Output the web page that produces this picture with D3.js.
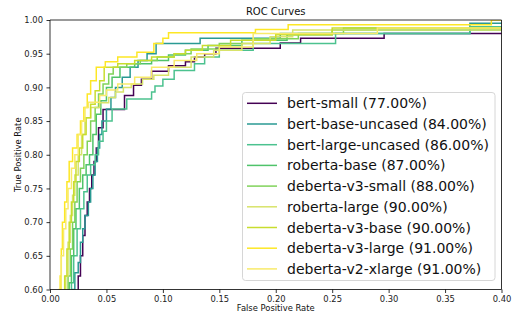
<!DOCTYPE html>
<html><head><meta charset="utf-8">
<script src="https://cdn.jsdelivr.net/npm/d3@7"></script>
<style>body{margin:0;background:#fff}svg{display:block}text{font-family:"DejaVu Sans",sans-serif}</style>
</head><body><svg id="c" width="514" height="314"></svg>
<script>
const models = ["bert-small","bert-base-uncased","bert-large-uncased","roberta-base","deberta-v3-small","roberta-large","deberta-v3-base","deberta-v3-large","deberta-v2-xlarge"];
const accuracy = [77.00,84.00,86.00,87.00,88.00,90.00,90.00,91.00,91.00];
const fprBertSmall = [0.024,0.025,0.027,0.029,0.031,0.033,0.035,0.037,0.039,0.041,0.043,0.047,0.066,0.074,0.081,0.090,0.105,0.120,0.128,0.137,0.147,0.204,0.222,0.296,0.45];
const tprBertSmall = [0.55,0.62,0.65,0.68,0.71,0.73,0.75,0.77,0.79,0.81,0.84,0.867,0.888,0.903,0.912,0.924,0.932,0.938,0.945,0.95,0.958,0.966,0.973,0.98,0.98];
const fprBertBase = [0.019,0.020,0.022,0.025,0.027,0.029,0.031,0.034,0.036,0.038,0.040,0.042,0.044,0.046,0.050,0.054,0.058,0.064,0.071,0.078,0.086,0.094,0.133,0.204,0.372,0.45];
const tprBertBase = [0.55,0.60,0.625,0.64,0.67,0.69,0.71,0.73,0.75,0.77,0.79,0.81,0.83,0.85,0.868,0.885,0.90,0.915,0.93,0.94,0.95,0.965,0.973,0.98,0.995,0.995];
const fprBertLarge = [0.018,0.019,0.021,0.024,0.027,0.030,0.033,0.036,0.040,0.043,0.047,0.050,0.055,0.068,0.090,0.093,0.100,0.110,0.128,0.137,0.150,0.180,0.253,0.372,0.45];
const tprBertLarge = [0.55,0.61,0.65,0.69,0.72,0.745,0.77,0.785,0.80,0.82,0.835,0.85,0.868,0.8826,0.893,0.902,0.912,0.925,0.935,0.945,0.955,0.965,0.98,0.99,0.99];
const fprRobertaBase = [0.016,0.017,0.019,0.021,0.023,0.026,0.029,0.032,0.035,0.038,0.041,0.045,0.050,0.055,0.062,0.075,0.090,0.105,0.120,0.140,0.170,0.210,0.250,0.45];
const tprRobertaBase = [0.55,0.61,0.65,0.69,0.72,0.75,0.77,0.785,0.80,0.83,0.86,0.88,0.90,0.915,0.93,0.935,0.94,0.948,0.955,0.962,0.97,0.978,0.985,0.985];
const fprDebV3Small = [0.015,0.016,0.018,0.020,0.022,0.024,0.027,0.030,0.033,0.036,0.040,0.043,0.047,0.052,0.056,0.068,0.080,0.095,0.110,0.125,0.150,0.180,0.220,0.260,0.45];
const tprDebV3Small = [0.55,0.62,0.66,0.70,0.73,0.76,0.78,0.80,0.82,0.85,0.87,0.89,0.905,0.92,0.93,0.935,0.94,0.945,0.95,0.957,0.965,0.972,0.98,0.988,0.988];
const fprRobertaLarge = [0.013,0.014,0.016,0.018,0.020,0.022,0.025,0.028,0.031,0.036,0.044,0.052,0.058,0.065,0.072,0.082,0.092,0.105,0.125,0.145,0.17,0.195,0.215,0.45];
const tprRobertaLarge = [0.55,0.62,0.67,0.71,0.74,0.77,0.80,0.83,0.855,0.87,0.877,0.885,0.893,0.90,0.905,0.912,0.918,0.93,0.945,0.955,0.965,0.975,0.985,0.985];
const fprDebV3Base = [0.012,0.013,0.015,0.017,0.019,0.021,0.023,0.026,0.029,0.032,0.036,0.040,0.044,0.048,0.060,0.075,0.090,0.110,0.120,0.135,0.160,0.200,0.250,0.45];
const tprDebV3Base = [0.55,0.62,0.66,0.70,0.73,0.76,0.79,0.81,0.83,0.855,0.875,0.895,0.91,0.93,0.935,0.94,0.945,0.95,0.955,0.962,0.97,0.978,0.988,0.988];
const fprDebV3Large = [0.008,0.009,0.010,0.011,0.013,0.015,0.017,0.020,0.024,0.027,0.030,0.033,0.036,0.041,0.049,0.060,0.077,0.092,0.100,0.105,0.182,0.211,0.391,0.45];
const tprDebV3Large = [0.55,0.62,0.66,0.70,0.73,0.76,0.79,0.81,0.83,0.85,0.87,0.89,0.91,0.93,0.938,0.945,0.952,0.965,0.973,0.981,0.986,0.993,1.0,1.0];
const fprDebV2XL = [0.007,0.008,0.010,0.012,0.014,0.016,0.019,0.022,0.025,0.028,0.031,0.034,0.044,0.050,0.060,0.075,0.090,0.110,0.130,0.150,0.180,0.290,0.45];
const tprDebV2XL = [0.55,0.60,0.65,0.69,0.72,0.75,0.78,0.80,0.83,0.85,0.87,0.878,0.888,0.896,0.905,0.915,0.93,0.94,0.95,0.96,0.98,0.988,0.988];
const xTicks = [0.00,0.05,0.10,0.15,0.20,0.25,0.30,0.35,0.40];
const yTicks = [0.60,0.65,0.70,0.75,0.80,0.85,0.90,0.95,1.00];
const colors = ["#440154","#2a9a93","#4cc28f","#4fc36a","#80d35a","#d8e36a","#c8dd2e","#fde725","#f8ea6a"];

const fprs = [fprBertSmall,fprBertBase,fprBertLarge,fprRobertaBase,fprDebV3Small,fprRobertaLarge,fprDebV3Base,fprDebV3Large,fprDebV2XL];
const tprs = [tprBertSmall,tprBertBase,tprBertLarge,tprRobertaBase,tprDebV3Small,tprRobertaLarge,tprDebV3Base,tprDebV3Large,tprDebV2XL];
const series = models.map((m,i)=>({name:m, acc:accuracy[i], color:colors[i], pts:fprs[i].map((f,j)=>[f,tprs[i][j]])}));

const svg = d3.select("#c");
const L=50, R=501.5, T=20, B=289.5;
const x = d3.scaleLinear().domain([0,0.4]).range([L,R]);
const y = d3.scaleLinear().domain([0.6,1.0]).range([B,T]);

svg.append("defs").append("clipPath").attr("id","clip").append("rect")
  .attr("x",L).attr("y",T).attr("width",R-L).attr("height",B-T);

const line = d3.line().x(d=>x(d[0])).y(d=>y(d[1])).curve(d3.curveStepAfter);
const g = svg.append("g").attr("clip-path","url(#clip)");
series.forEach(s=>{
  g.append("path").attr("d",line(s.pts)).attr("fill","none").attr("stroke",s.color).attr("stroke-width",1.5);
});

// axes
const xAxis = d3.axisBottom(x).tickValues(xTicks).tickFormat(d3.format(".2f")).tickSize(3.5).tickPadding(3.5);
const yAxis = d3.axisLeft(y).tickValues(yTicks).tickFormat(d3.format(".2f")).tickSize(3.5).tickPadding(3.5);
const gx = svg.append("g").attr("transform",`translate(0,${B})`).call(xAxis);
const gy = svg.append("g").attr("transform",`translate(${L},0)`).call(yAxis);
[gx,gy].forEach(a=>{
  a.select(".domain").remove();
  a.selectAll("line").attr("stroke","#000").attr("stroke-width",0.8);
  a.selectAll("text").attr("font-family","DejaVu Sans").attr("font-size",8.4).attr("fill","#222");
});
// spines
const sp = svg.append("g").attr("stroke","#000").attr("stroke-width",0.8);
sp.append("line").attr("x1",L).attr("x2",R).attr("y1",T).attr("y2",T);
sp.append("line").attr("x1",L).attr("x2",R).attr("y1",B).attr("y2",B);
sp.append("line").attr("x1",L).attr("x2",L).attr("y1",T).attr("y2",B);
sp.append("line").attr("x1",R).attr("x2",R).attr("y1",T).attr("y2",B);

svg.append("text").attr("x",(L+R)/2).attr("y",15).attr("text-anchor","middle").attr("font-size",10).attr("fill","#111").text("ROC Curves");
svg.append("text").attr("x",(L+R)/2).attr("y",311).attr("text-anchor","middle").attr("font-size",8.4).attr("fill","#111").text("False Positive Rate");
svg.append("text").attr("transform",`translate(21,${(T+B)/2}) rotate(-90)`).attr("text-anchor","middle").attr("font-size",8.4).attr("fill","#111").text("True Positive Rate");

// legend
const lg = svg.append("g");
lg.append("rect").attr("x",242.5).attr("y",92.5).attr("width",252.5).attr("height",188).attr("rx",3)
  .attr("fill","#fff").attr("fill-opacity",0.8).attr("stroke","#ccc").attr("stroke-width",0.8);
series.forEach((s,i)=>{
  const yy = 103.3 + i*20.7;
  lg.append("line").attr("x1",247).attr("x2",277).attr("y1",yy).attr("y2",yy).attr("stroke",s.color).attr("stroke-width",1.5);
  lg.append("text").attr("x",287).attr("y",yy+5).attr("font-size",14).attr("fill","#111")
    .text(`${s.name} (${s.acc.toFixed(2)}%)`);
});
</script></body></html>
